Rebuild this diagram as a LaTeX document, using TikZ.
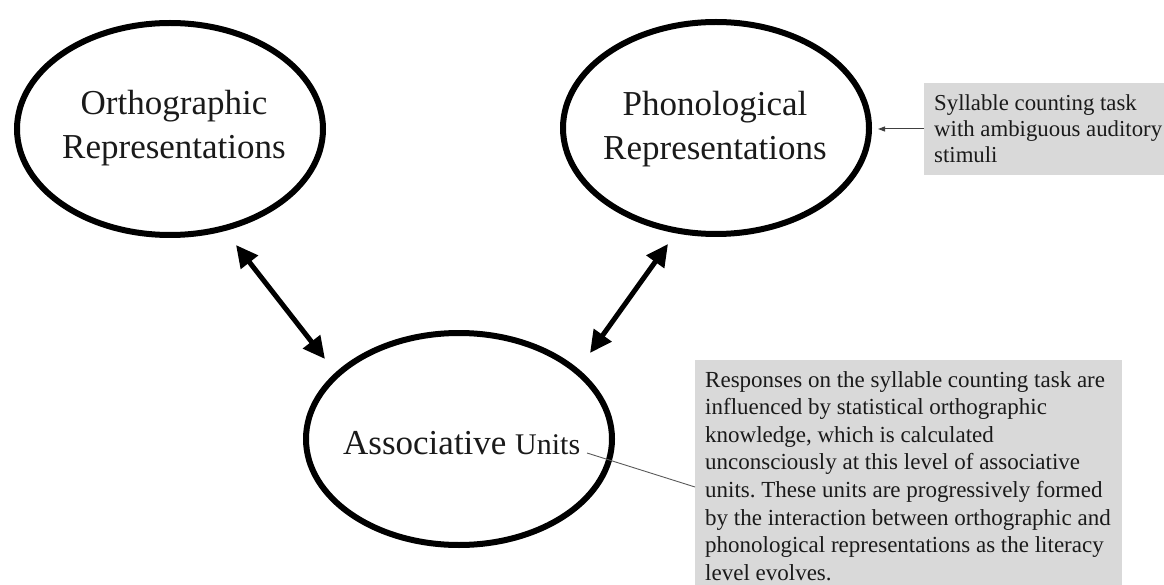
\documentclass[tikz,border=0pt]{standalone}
\usepackage{fontspec}
\setmainfont{Liberation Serif}
\usetikzlibrary{shapes.geometric,arrows.meta}
\definecolor{boxgray}{HTML}{D9D9D9}
\definecolor{txt}{HTML}{1A1A1A}
\frenchspacing
\begin{document}
\begin{tikzpicture}[x=1pt,y=-1pt,
  ell/.style={draw=black, line width=6pt, ellipse, minimum width=306pt, minimum height=212pt, inner sep=0pt},
  bigtxt/.style={font=\fontsize{35}{43.5}\selectfont, align=center, text=txt, inner sep=0pt},
  thick2/.style={line width=5pt, {Triangle[length=22pt,width=21pt]}-{Triangle[length=22pt,width=21pt]}},
  graybox/.style={fill=boxgray, draw=none, anchor=north west, inner sep=0pt},
  boxtxt/.style={anchor=north west, align=left, inner sep=0pt, text=txt},
  callout/.style={draw=black!65, line width=0.9pt}
]
\useasboundingbox (0,0) rectangle (1164,585);

% ellipses
\node[ell] (orth) at (170,129) {};
\node[ell] (phon) at (716,128) {};
\node[ell] (assoc) at (459,439) {};

% ellipse texts
\node[bigtxt] (orthtxt) at (174,128) {Orthographic\\Representations};
\node[bigtxt] (phontxt) at (715,129) {Phonological\\Representations};
\node[anchor=base west, inner sep=0pt, text=txt] (assoctxt) at (343,454)
  {\fontsize{35}{40}\selectfont Associative \fontsize{30}{36}\selectfont Units};

% thick arrows
\coordinate (a1s) at (236,245);
\coordinate (a1e) at (325,359);
\coordinate (a2s) at (668,244);
\coordinate (a2e) at (590,353);
\draw[thick2] (a1s) -- (a1e);
\draw[thick2] (a2s) -- (a2e);

% small box
\node[graybox, minimum width=245pt, minimum height=92pt] (box1) at (924,83) {};
\node[boxtxt, font=\fontsize{22.8}{26}\selectfont] (box1txt) at (934,94)
  {Syllable counting task\\with ambiguous auditory\\stimuli};
\coordinate (arrtip) at (878,129);
\draw[draw=black!75, line width=1pt, -{Triangle[length=7pt,width=5pt]}] (box1.west |- arrtip) -- (arrtip);

% big box
\node[graybox, minimum width=427pt, minimum height=230pt] (box2) at (695,360) {};
\node[boxtxt, font=\fontsize{23}{27.6}\selectfont] (box2txt) at (705,371)
  {Responses on the syllable counting task are\\
   influenced by statistical orthographic\\
   knowledge, which is calculated\\
   unconsciously at this level of associative\\
   units. These units are progressively formed\\
   by the interaction between orthographic and\\
   phonological representations as the literacy\\
   level evolves.};

% callout line
\coordinate (cs) at (587,453);
\coordinate (ce) at (695,487);
\draw[callout] (cs) -- (ce);
\end{tikzpicture}
\end{document}
